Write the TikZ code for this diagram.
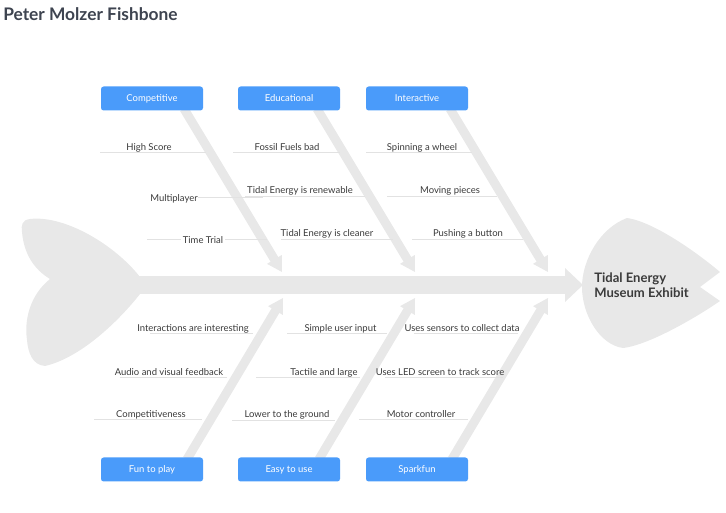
\documentclass[tikz,border=0pt]{standalone}
\usepackage{fontspec}
\setmainfont{Lato}
\usetikzlibrary{calc,backgrounds}
\definecolor{bone}{RGB}{232,232,232}
\definecolor{subline}{RGB}{226,226,226}
\definecolor{boxblue}{RGB}{74,155,250}
\definecolor{txt}{RGB}{58,58,58}
\definecolor{ttl}{RGB}{62,68,80}
\begin{document}
\begin{tikzpicture}[x=0.75pt,y=-0.75pt,
  cat/.style={fill=boxblue, rounded corners=2pt, minimum width=76.5pt, minimum height=18pt, inner sep=0pt, text=white, font=\fontsize{7.1}{8}\selectfont},
  lbl/.style={text=txt, font=\fontsize{7.1}{8}\selectfont, inner sep=0pt, anchor=base},
  sub/.style={draw=subline, line width=0.75pt}
]
\useasboundingbox (0,0) rectangle (726,513);

\node[anchor=west, text=ttl, font=\fontsize{13}{15}\bfseries, inner sep=0pt] (title) at (3,14) {Peter Molzer Fishbone};

% category boxes
\node[cat] (c1) at (152,98.5) {Competitive};
\node[cat] (c2) at (289,98.5) {Educational};
\node[cat] (c3) at (417,98.5) {Interactive};
\node[cat] (c4) at (152,469.5) {Fun to play};
\node[cat] (c5) at (289,469.5) {Easy to use};
\node[cat] (c6) at (417,469.5) {Sparkfun};

% head
\node[anchor=west, align=left, text=txt, font=\fontsize{9.8}{11.25}\bfseries, inner sep=0pt] (head) at (594,285.5) {Tidal Energy\\Museum Exhibit};

% branch coordinates
\coordinate (s1) at ($(c1.south)+(32,-2)$);
\coordinate (s2) at ($(c2.south)+(28,-2)$);
\coordinate (s3) at ($(c3.south)+(33,-2)$);
\coordinate (s4) at ($(c4.north)+(35,2)$);
\coordinate (s5) at ($(c5.north)+(30,2)$);
\coordinate (s6) at ($(c6.north)+(35,2)$);
\coordinate (t1) at (282,272);
\coordinate (t2) at (415,272);
\coordinate (t3) at (548,272);
\coordinate (t4) at (283,298);
\coordinate (t5) at (415,298);
\coordinate (t6) at (548,298);
\coordinate (spineL) at (139,285);
\coordinate (spineR) at (583,285);

\begin{scope}[on background layer]
% tail
\fill[bone] (140,277) .. controls (115,245) and (65,215) .. (30,219)
  .. controls (22,220) and (21,225) .. (22,232)
  .. controls (24,255) and (35,270) .. (50,279)
  .. controls (30,295) and (24,320) .. (27,340)
  .. controls (28,352) and (32,365) .. (45,366)
  .. controls (80,358) and (118,322) .. (140,294) -- cycle;
% head shape
\fill[bone] (627,218) .. controls (600,228) and (582,260) .. (582,287)
  .. controls (582,315) and (600,345) .. (623,348)
  .. controls (650,345) and (700,315) .. (720,301)
  -- (700,287) -- (720,272)
  .. controls (700,255) and (655,222) .. (627,218) -- cycle;
% spine
\fill[bone] ($(spineL)+(0,-9)$) rectangle ($(spineR)+(-17,9)$);
\fill[bone] ($(spineR)+(-18,-17)$) -- (spineR) -- ($(spineR)+(-18,17)$) -- cycle;
% branches
\foreach \s/\t in {s1/t1,s2/t2,s3/t3,s4/t4,s5/t5,s6/t6}{
  \coordinate (bb) at ($(\t)!11pt!(\s)$);
  \draw[bone, line width=6.75pt] (\s) -- ($(\t)!10pt!(\s)$);
  \fill[bone] (\t) -- ($(bb)!6.5pt!90:(\t)$) -- ($(bb)!6.5pt!-90:(\t)$) -- cycle;
}
\end{scope}

% sub-bones
\draw[sub] (100,153) -- (206,153);
\draw[sub] (233,153) -- (340,153);
\draw[sub] (366,153) -- (472,153);
\draw[sub] (198,198) -- (263,198);
\draw[sub] (245,197) -- (365,197);
\draw[sub] (387,197) -- (497,197);
\draw[sub] (147,240) -- (267,240);
\draw[sub] (281,240) -- (393,240);
\draw[sub] (412,240) -- (523,240);
\draw[sub] (150,334) -- (253,334);
\draw[sub] (287,334) -- (387,334);
\draw[sub] (414,334) -- (518,334);
\draw[sub] (120,378) -- (227,378);
\draw[sub] (256,378) -- (360,378);
\draw[sub] (385,378) -- (503,378);
\draw[sub] (94,420) -- (202,420);
\draw[sub] (232,421) -- (335,421);
\draw[sub] (359,420) -- (468,420);

% labels
\node[lbl] (l1) at (149,150.5) {High Score};
\node[lbl] (l2) at (287,150.5) {Fossil Fuels bad};
\node[lbl] (l3) at (422,150.5) {Spinning a wheel};
\node[lbl] (l4) at (174,201.5) {Multiplayer};
\node[lbl] (l5) at (300,193.5) {Tidal Energy is renewable};
\node[lbl] (l6) at (450,193.5) {Moving pieces};
\node[lbl, fill=white, inner xsep=1.5pt] (l7) at (203,243.5) {Time Trial};
\node[lbl] (l8) at (327,236.5) {Tidal Energy is cleaner};
\node[lbl] (l9) at (468,236.5) {Pushing a button};
\node[lbl] (m1) at (193,331.5) {Interactions are interesting};
\node[lbl] (m2) at (340.5,331.5) {Simple user input};
\node[lbl] (m3) at (462,331.5) {Uses sensors to collect data};
\node[lbl] (m4) at (169,375.5) {Audio and visual feedback};
\node[lbl] (m5) at (324,375.5) {Tactile and large};
\node[lbl] (m6) at (440,375.5) {Uses LED screen to track score};
\node[lbl] (m7) at (151,417.5) {Competitiveness};
\node[lbl] (m8) at (287,417.5) {Lower to the ground};
\node[lbl] (m9) at (421,417.5) {Motor controller};
\end{tikzpicture}
\end{document}
